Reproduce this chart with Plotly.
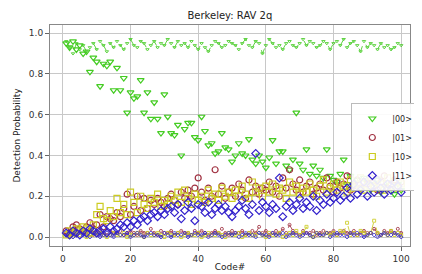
import plotly.graph_objects as go

code = list(range(1, 101))

p00_high = [0.96,0.93,0.90,0.95,0.92,0.94,0.91,0.93,0.95,0.92,
            0.96,0.94,0.91,0.95,0.93,0.96,0.94,0.92,0.95,0.97,
            0.94,0.93,0.96,0.95,0.92,0.94,0.96,0.93,0.95,0.94,
            0.97,0.95,0.93,0.96,0.94,0.95,0.93,0.96,0.94,0.92,
            0.95,0.93,0.91,0.94,0.96,0.95,0.93,0.94,0.96,0.95,
            0.94,0.92,0.95,0.97,0.94,0.93,0.96,0.95,0.90,0.94,
            0.97,0.95,0.93,0.94,0.92,0.95,0.96,0.94,0.93,0.95,
            0.97,0.94,0.96,0.95,0.93,0.94,0.96,0.95,0.92,0.95,
            0.96,0.94,0.97,0.93,0.95,0.96,0.94,0.91,0.96,0.93,
            0.95,0.94,0.92,0.95,0.93,0.94,0.92,0.93,0.95,0.94]

p00_decay = [0.95,0.93,0.96,0.92,0.94,0.90,0.91,0.81,0.88,0.86,
             0.74,0.85,0.84,0.86,0.72,0.83,0.72,0.78,0.61,0.71,
             0.68,0.69,0.77,0.61,0.71,0.58,0.66,0.58,0.51,0.70,
             0.59,0.51,0.50,0.55,0.40,0.53,0.56,0.56,0.49,0.475,
             0.59,0.52,0.45,0.46,0.41,0.42,0.51,0.44,0.43,0.37,
             0.40,0.46,0.41,0.40,0.48,0.38,0.36,0.40,0.37,0.34,
             0.39,0.475,0.36,0.42,0.42,0.35,0.33,0.38,0.61,0.36,
             0.33,0.43,0.31,0.35,0.30,0.33,0.29,0.43,0.30,0.28,
             0.27,0.31,0.38,0.26,0.30,0.25,0.28,0.24,0.29,0.27,
             0.23,0.26,0.28,0.22,0.25,0.27,0.24,0.21,0.26,0.23]

p01_low = [0.02,0.03,0.02,0.01,0.03,0.02,0.02,0.03,0.01,0.02,
           0.03,0.02,0.01,0.03,0.02,0.02,0.03,0.01,0.02,0.03,
           0.02,0.01,0.03,0.02,0.02,0.04,0.02,0.01,0.03,0.02,
           0.02,0.03,0.01,0.02,0.03,0.02,0.02,0.01,0.03,0.02,
           0.03,0.02,0.01,0.02,0.03,0.02,0.04,0.02,0.01,0.03,
           0.02,0.02,0.03,0.01,0.02,0.03,0.02,0.05,0.02,0.03,
           0.01,0.02,0.03,0.02,0.04,0.02,0.06,0.03,0.02,0.01,
           0.03,0.02,0.02,0.03,0.01,0.02,0.03,0.02,0.02,0.03,
           0.01,0.02,0.03,0.02,0.02,0.03,0.01,0.02,0.03,0.02,
           0.02,0.04,0.02,0.01,0.03,0.02,0.03,0.02,0.04,0.02]

p01_rise = [0.03,0.02,0.05,0.06,0.04,0.03,0.05,0.07,0.04,0.06,
            0.11,0.05,0.10,0.09,0.08,0.12,0.10,0.14,0.21,0.11,
            0.15,0.20,0.13,0.19,0.14,0.18,0.16,0.19,0.17,0.15,
            0.19,0.21,0.18,0.16,0.22,0.19,0.23,0.20,0.24,0.29,
            0.22,0.18,0.24,0.20,0.33,0.21,0.25,0.19,0.22,0.24,
            0.20,0.26,0.23,0.19,0.28,0.22,0.25,0.21,0.24,0.23,
            0.27,0.22,0.25,0.20,0.29,0.24,0.33,0.26,0.23,0.28,
            0.22,0.25,0.27,0.21,0.24,0.26,0.23,0.29,0.25,0.22,
            0.27,0.24,0.26,0.30,0.23,0.25,0.28,0.24,0.27,0.26,
            0.29,0.25,0.23,0.27,0.30,0.24,0.26,0.28,0.25,0.27]

p10_low = [0.01,0.00,0.02,0.01,0.01,0.02,0.00,0.01,0.02,0.01,
           0.02,0.01,0.00,0.01,0.02,0.01,0.01,0.02,0.00,0.01,
           0.01,0.02,0.01,0.00,0.02,0.01,0.01,0.02,0.01,0.00,
           0.02,0.01,0.01,0.02,0.00,0.01,0.02,0.01,0.01,0.02,
           0.00,0.01,0.02,0.01,0.01,0.02,0.01,0.00,0.02,0.01,
           0.01,0.02,0.00,0.01,0.02,0.01,0.01,0.02,0.01,0.00,
           0.02,0.01,0.01,0.02,0.00,0.01,0.02,0.01,0.03,0.01,
           0.02,0.05,0.01,0.00,0.02,0.01,0.01,0.02,0.01,0.02,
           0.01,0.03,0.02,0.07,0.01,0.02,0.01,0.03,0.02,0.01,
           0.02,0.08,0.02,0.01,0.02,0.01,0.03,0.01,0.02,0.01]

p10_rise = [0.01,0.03,0.02,0.04,0.03,0.05,0.04,0.02,0.06,0.11,
            0.15,0.09,0.08,0.13,0.10,0.19,0.12,0.16,0.11,0.22,
            0.17,0.12,0.20,0.16,0.14,0.19,0.17,0.21,0.15,0.18,
            0.16,0.20,0.18,0.22,0.17,0.23,0.19,0.16,0.21,0.18,
            0.20,0.17,0.23,0.19,0.21,0.18,0.24,0.20,0.22,0.19,
            0.23,0.20,0.25,0.21,0.19,0.27,0.22,0.24,0.20,0.25,
            0.22,0.26,0.21,0.24,0.23,0.19,0.27,0.22,0.25,0.21,
            0.24,0.22,0.26,0.23,0.20,0.25,0.28,0.22,0.24,0.26,
            0.23,0.27,0.25,0.22,0.28,0.24,0.26,0.29,0.23,0.25,
            0.27,0.24,0.28,0.26,0.23,0.29,0.25,0.27,0.24,0.26]

p11_low = [0.01,0.02,0.00,0.01,0.02,0.01,0.01,0.00,0.02,0.01,
           0.00,0.01,0.02,0.01,0.00,0.02,0.01,0.01,0.02,0.00,
           0.01,0.02,0.01,0.00,0.01,0.02,0.01,0.01,0.00,0.02,
           0.01,0.00,0.02,0.01,0.01,0.02,0.00,0.01,0.02,0.01,
           0.01,0.02,0.00,0.01,0.02,0.01,0.00,0.01,0.02,0.01,
           0.02,0.00,0.01,0.02,0.01,0.01,0.00,0.02,0.01,0.01,
           0.00,0.02,0.01,0.01,0.02,0.00,0.01,0.02,0.01,0.00,
           0.01,0.02,0.01,0.00,0.02,0.01,0.01,0.02,0.00,0.01,
           0.02,0.01,0.01,0.00,0.02,0.01,0.02,0.01,0.00,0.01,
           0.02,0.01,0.00,0.01,0.02,0.01,0.01,0.02,0.01,0.00]

p11_rise = [0.02,0.01,0.03,0.02,0.01,0.03,0.02,0.04,0.03,0.02,
            0.03,0.04,0.02,0.05,0.03,0.04,0.06,0.05,0.07,0.05,
            0.08,0.06,0.09,0.10,0.08,0.11,0.12,0.10,0.13,0.11,
            0.14,0.15,0.12,0.16,0.09,0.13,0.17,0.14,0.08,0.16,
            0.15,0.12,0.17,0.11,0.14,0.16,0.13,0.15,0.12,0.10,
            0.13,0.15,0.18,0.14,0.11,0.16,0.41,0.13,0.17,0.15,
            0.12,0.16,0.14,0.29,0.10,0.15,0.17,0.13,0.16,0.19,
            0.14,0.17,0.15,0.20,0.13,0.18,0.16,0.21,0.17,0.19,
            0.22,0.18,0.20,0.24,0.19,0.26,0.21,0.23,0.27,0.20,
            0.25,0.22,0.28,0.24,0.21,0.26,0.23,0.27,0.25,0.22]

labels = ["|00>", "|01>", "|10>", "|11>"]
colors = ["#44cc22", "#a03040", "#cccc22", "#3322cc"]
symbols = ["triangle-down-open", "circle-open", "square-open", "diamond-open"]
low_series = [p00_high, p01_low, p10_low, p11_low]
rise_series = [p00_decay, p01_rise, p10_rise, p11_rise]

fig = go.Figure()
for lab, col, sym, lo in zip(labels, colors, symbols, low_series):
    fig.add_trace(go.Scatter(
        x=code, y=lo, mode="lines+markers", showlegend=False,
        line=dict(color=col, width=1, dash="dash"),
        marker=dict(symbol=sym, size=3, color=col, line=dict(width=1, color=col)),
        opacity=0.85))
for lab, col, sym, ri in zip(labels, colors, symbols, rise_series):
    fig.add_trace(go.Scatter(
        x=code, y=ri, mode="markers", name=lab,
        marker=dict(symbol=sym, size=6, color=col, line=dict(width=1.2, color=col))))

axis_common = dict(showline=True, linecolor="#888888", linewidth=1, mirror=True,
                   showgrid=True, gridcolor="#c8c8c8", gridwidth=1,
                   ticks="outside", ticklen=4, tickcolor="#666666",
                   tickfont=dict(size=9, color="#333333", family="DejaVu Sans"),
                   zeroline=False, automargin=False)

# the page body adds an 8px offset, so the figure is sized to fit the 422x274 window
fig.update_layout(
    width=414, height=266,
    margin=dict(l=42, r=4, t=17, b=28),
    paper_bgcolor="white", plot_bgcolor="white",
    title=dict(text="Berkeley: RAV 2q", x=0.536, xanchor="center", y=0.972, yanchor="middle",
               font=dict(size=10, color="#222222", family="DejaVu Sans")),
    xaxis=dict(range=[-3.8, 102.6], tickvals=[0, 20, 40, 60, 80, 100],
               title=dict(text="Code#", font=dict(size=9, color="#222222", family="DejaVu Sans"), standoff=0),
               **axis_common),
    yaxis=dict(range=[-0.044, 1.04], tickvals=[0.0, 0.2, 0.4, 0.6, 0.8, 1.0], tickformat=".1f",
               title=dict(text="Detection Probability", font=dict(size=9, color="#222222", family="DejaVu Sans"), standoff=6),
               **axis_common),
    legend=dict(x=0.837, y=0.647, xanchor="left", yanchor="top",
                bgcolor="rgba(255,255,255,0.9)", bordercolor="#bbbbbb", borderwidth=1,
                font=dict(size=8, color="#222222", family="DejaVu Sans"),
                itemwidth=30, tracegroupgap=0),
)

fig.write_html("out.html")
